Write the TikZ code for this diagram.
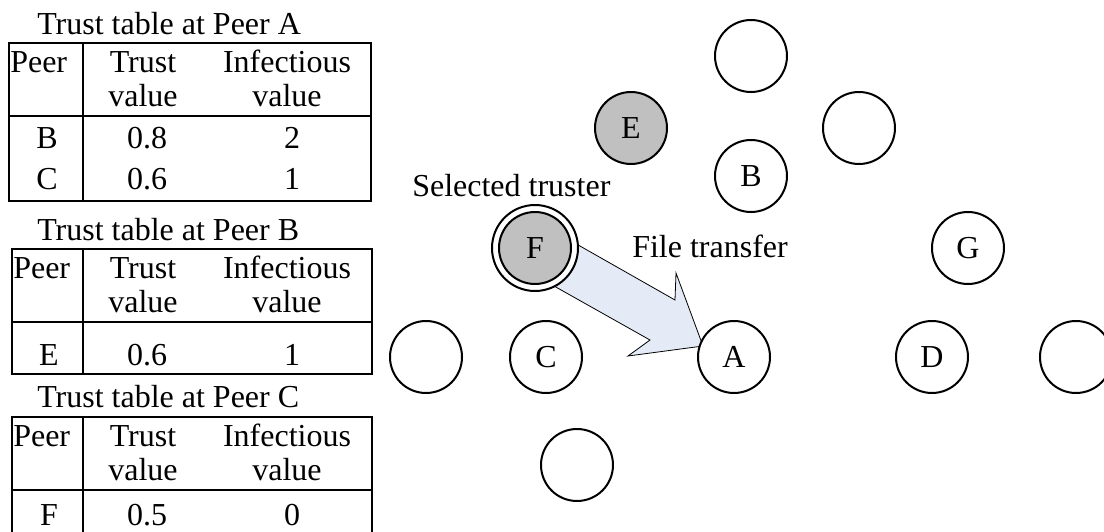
\documentclass[tikz,border=0pt]{standalone}
\usepackage{fontspec}
\setmainfont{Liberation Serif}
\begin{document}
\begin{tikzpicture}[x=0.75pt,y=-0.75pt,
    every node/.style={font=\fontsize{24}{28}\selectfont, inner sep=0pt},
    peer/.style={circle, draw, line width=1.5pt, fill=white, minimum size=54pt},
    infected/.style={peer, fill=peergray},
    ring/.style={circle, draw, line width=1.5pt, fill=white, minimum size=64.5pt},
    grid/.style={line width=1.5pt},
    cell/.style={anchor=base},
    flow/.style={draw=black, line width=0.6pt, fill=flowblue, line join=miter}]
  \definecolor{peergray}{HTML}{C0C0C0}
  \definecolor{flowblue}{HTML}{E4EBF7}
  \useasboundingbox (0,0) rectangle (1104,532);

  % ---- trust table of peer A ----
  \node[anchor=base west] (tA) at (37,34) {Trust table at Peer A};
  \draw[grid] (9,43) rectangle (371,201);
  \draw[grid] (83,43) -- (83,201);
  \draw[grid] (9,116) -- (371,116);
  \node[anchor=base west] (aPeer) at (10,72) {Peer};
  \node[cell] (aT1) at (143,72) {Trust};
  \node[cell] (aT2) at (143,106) {value};
  \node[cell] (aI1) at (287,72) {Infectious};
  \node[cell] (aI2) at (287,106) {value};
  \node[cell] (aB) at (47,148) {B};
  \node[cell] (aBt) at (147,148) {0.8};
  \node[cell] (aBi) at (292,148) {2};
  \node[cell] (aC) at (47,189) {C};
  \node[cell] (aCt) at (147,189) {0.6};
  \node[cell] (aCi) at (292,189) {1};

  % ---- trust table of peer B ----
  \node[anchor=base west] (tB) at (37,240) {Trust table at Peer B};
  \draw[grid] (12,249) rectangle (372,374);
  \draw[grid] (83,249) -- (83,374);
  \draw[grid] (12,322) -- (372,322);
  \node[anchor=base west] (bPeer) at (13,278) {Peer};
  \node[cell] (bT1) at (143,278) {Trust};
  \node[cell] (bT2) at (143,312) {value};
  \node[cell] (bI1) at (287,278) {Infectious};
  \node[cell] (bI2) at (287,312) {value};
  \node[cell] (bE) at (49,365) {E};
  \node[cell] (bEt) at (147,365) {0.6};
  \node[cell] (bEi) at (292,365) {1};

  % ---- trust table of peer C ----
  \node[anchor=base west] (tC) at (37,407) {Trust table at Peer C};
  \draw[grid] (12,417) rectangle (372,545);
  \draw[grid] (83,417) -- (83,545);
  \draw[grid] (12,490) -- (372,490);
  \node[anchor=base west] (cPeer) at (13,446) {Peer};
  \node[cell] (cT1) at (143,446) {Trust};
  \node[cell] (cT2) at (143,480) {value};
  \node[cell] (cI1) at (287,446) {Infectious};
  \node[cell] (cI2) at (287,480) {value};
  \node[cell] (cF) at (49,525) {F};
  \node[cell] (cFt) at (147,525) {0.5};
  \node[cell] (cFi) at (292,525) {0};

  % ---- file transfer block arrow (drawn under the peers) ----
  \draw[flow] (543,225) -- (675,300) -- (676,273) -- (703,346)
              -- (628,356) -- (650,340) -- (522,268) -- cycle;

  % ---- overlay network ----
  \node[peer] (n1) at (751,56) {};
  \node[infected] (E) at (631,128) {E};
  \node[peer] (n2) at (859,128) {};
  \node[peer] (B) at (751,176) {B};
  \node[ring] (Fr) at (535,248) {};
  \node[infected] (F) at (Fr.center) {F};
  \node[peer] (G) at (968,248) {G};
  \node[peer] (n3) at (426,357) {};
  \node[peer] (C) at (546,357) {C};
  \node[peer] (A) at (734,357) {A};
  \node[peer] (D) at (932,357) {D};
  \node[peer] (n4) at (1076,357) {};
  \node[peer] (n5) at (577,465) {};

  \node[anchor=base west] (sel) at (412,196) {Selected truster};
  \node[anchor=base west] (ft) at (632,257) {File transfer};
\end{tikzpicture}
\end{document}
